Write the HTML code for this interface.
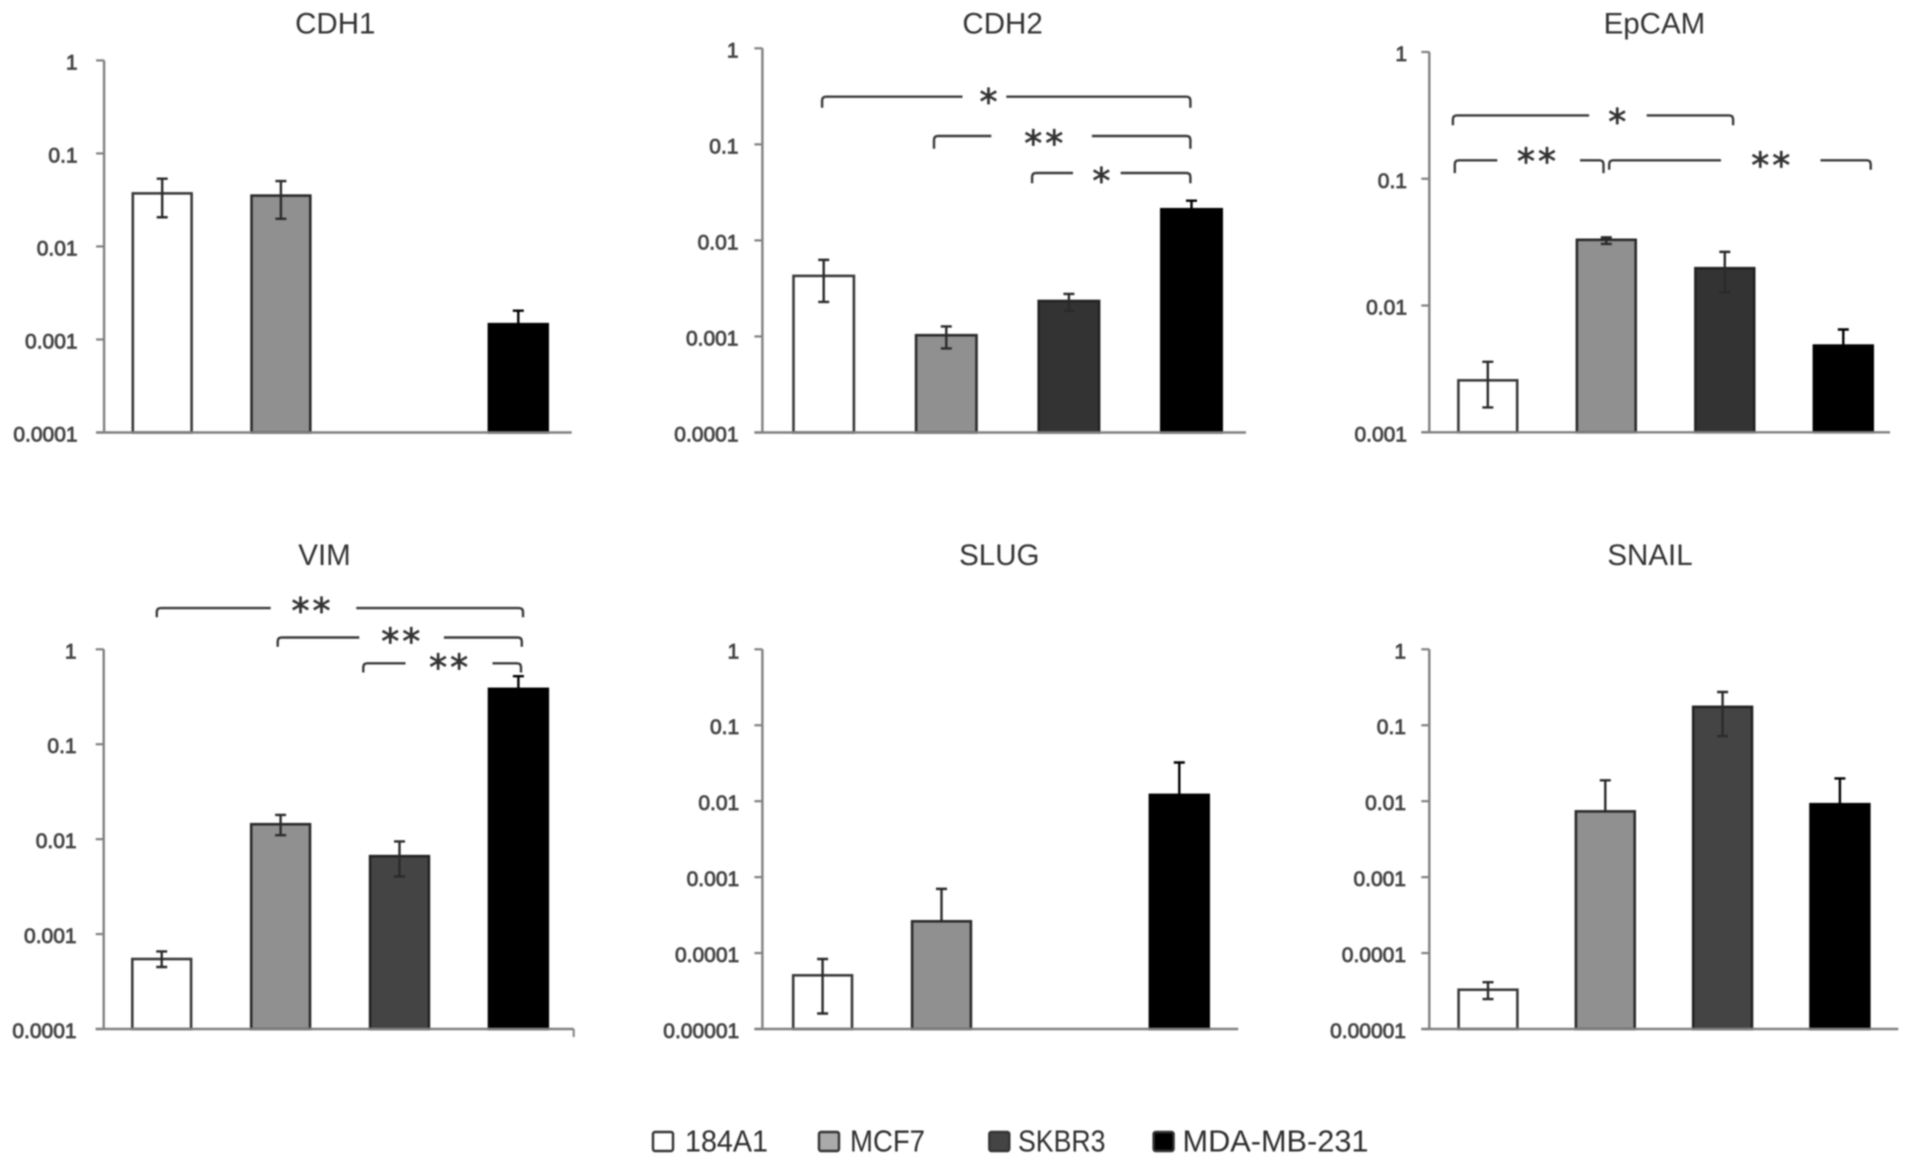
<!DOCTYPE html>
<html lang="en">
<head>
<meta charset="utf-8">
<title>Gene expression across breast cell lines</title>
<style>
  html, body { margin: 0; padding: 0; background: #ffffff; }
  #figure { display: block; width: 1913px; height: 1168px; filter: blur(0.7px); }
  text { font-family: "Liberation Sans", "DejaVu Sans", sans-serif; }
</style>
</head>
<body>
<svg id="figure" xmlns="http://www.w3.org/2000/svg" width="1913" height="1168" viewBox="0 0 1913 1168"></svg>
<script>
// ---- Data ----
const cellLines = ['184A1', 'MCF7', 'SKBR3', 'MDA-MB-231'];

const fourDecadeTicks = [1, 0.1, 0.01, 0.001, 0.0001];
const fourDecadeLabels = ['1', '0.1', '0.01', '0.001', '0.0001'];
const threeDecadeTicks = [1, 0.1, 0.01, 0.001];
const threeDecadeLabels = ['1', '0.1', '0.01', '0.001'];
const fiveDecadeTicks = [1, 0.1, 0.01, 0.001, 0.0001, 0.00001];
const fiveDecadeLabels = ['1', '0.1', '0.01', '0.001', '0.0001', '0.00001'];

const cdh1Values = [0.0372, 0.0352, null, 0.00146];
const cdh1Upper = [0.0535, 0.0505, null, 0.00204];
const cdh1Lower = [0.0206, 0.0198, null, 0.00088];

const cdh2Values = [0.00427, 0.00103, 0.00234, 0.0211];
const cdh2Upper = [0.00627, 0.00127, 0.00277, 0.0259];
const cdh2Lower = [0.00229, 0.00075, 0.00185, 0.0163];

const epcamValues = [0.00257, 0.033, 0.0197, 0.00483];
const epcamUpper = [0.0036, 0.0345, 0.0265, 0.00647];
const epcamLower = [0.00157, 0.0306, 0.0127, 0.0032];

const vimValues = [0.000546, 0.01436, 0.00662, 0.383];
const vimUpper = [0.000656, 0.018, 0.00946, 0.521];
const vimLower = [0.00045, 0.011, 0.00405, 0.245];

const slugValues = [0.0000509, 0.000262, null, 0.0121];
const slugUpper = [0.0000835, 0.0007, null, 0.0323];
const slugLower = [0.000016, null, null, null];

const snailValues = [0.0000329, 0.00734, 0.1746, 0.00912];
const snailUpper = [0.0000413, 0.0188, 0.274, 0.01995];
const snailLower = [0.0000248, null, 0.0721, null];

// ---- Layout (geometry only, no data) ----
const barFills = ['#ffffff', '#909090', '#333333', '#000000'];
const barStrokes = ['#3a3a3a', '#2a2a2a', '#222222', '#000000'];
const SVGNS = 'http://www.w3.org/2000/svg';
const svg = document.getElementById('figure');

const panels = [
  { key: 'cdh1', title: 'CDH1', titleX: 335.3, titleY: 33.5, axisX: 104.1, yTop: 60.4, yBase: 432.5, xEnd: 571.7, x0: 162.2, step: 118.7, barW: 58.8, labelX: 77.6, ticks: fourDecadeTicks, labels: fourDecadeLabels, values: cdh1Values, upper: cdh1Upper, lower: cdh1Lower, darkFill: '#333333', endTick: false, brackets: [] },
  { key: 'cdh2', title: 'CDH2', titleX: 1002.6, titleY: 33.5, axisX: 762.4, yTop: 48.3, yBase: 432.5, xEnd: 1246, x0: 823.7, step: 122.6, barW: 60.4, labelX: 738.5, ticks: fourDecadeTicks, labels: fourDecadeLabels, values: cdh2Values, upper: cdh2Upper, lower: cdh2Lower, darkFill: '#333333', endTick: false,
    brackets: [
      { x1: 822.1, x2: 1190.4, y: 96.7, drop: 11, g1: 962.5, g2: 1006.3, sx: 990, sy: 96.7, stars: '*' },
      { x1: 934, x2: 1190.4, y: 136, drop: 12.7, g1: 991.3, g2: 1091.9, sx: 1045.2, sy: 138, stars: '**' },
      { x1: 1032.1, x2: 1190.4, y: 173, drop: 10.2, g1: 1073, g2: 1120.7, sx: 1102.9, sy: 175.5, stars: '*' }
    ] },
  { key: 'epcam', title: 'EpCAM', titleX: 1654.4, titleY: 33.5, axisX: 1429.3, yTop: 52, yBase: 432.3, xEnd: 1890, x0: 1487.8, step: 118.5, barW: 58.8, labelX: 1407, ticks: threeDecadeTicks, labels: threeDecadeLabels, values: epcamValues, upper: epcamUpper, lower: epcamLower, darkFill: '#333333', endTick: false,
    brackets: [
      { x1: 1452.9, x2: 1733.1, y: 115.4, drop: 9.8, g1: 1589.1, g2: 1646.7, sx: 1618.8, sy: 116.7, stars: '*' },
      { x1: 1454.8, x2: 1603.5, y: 160.3, drop: 12.8, g1: 1497.3, g2: 1580, sx: 1538, sy: 156, stars: '**' },
      { x1: 1609.2, x2: 1870.7, y: 160.3, drop: 9.5, g1: 1721, g2: 1820.5, sx: 1772.3, sy: 160, stars: '**' }
    ] },
  { key: 'vim', title: 'VIM', titleX: 324.5, titleY: 564.8, axisX: 103.7, yTop: 649.3, yBase: 1029, xEnd: 573.7, x0: 161.7, step: 118.9, barW: 58.8, labelX: 76.6, ticks: fourDecadeTicks, labels: fourDecadeLabels, values: vimValues, upper: vimUpper, lower: vimLower, darkFill: '#444444', endTick: true,
    brackets: [
      { x1: 156.8, x2: 523, y: 608.1, drop: 9.2, g1: 270.7, g2: 356.3, sx: 312.5, sy: 605.4, stars: '**' },
      { x1: 277.7, x2: 521.8, y: 637.5, drop: 9.2, g1: 359.3, g2: 443.9, sx: 402.3, sy: 635.8, stars: '**' },
      { x1: 363.3, x2: 521, y: 663.3, drop: 9.2, g1: 405.5, g2: 492.5, sx: 450.1, sy: 661.9, stars: '**' }
    ] },
  { key: 'slug', title: 'SLUG', titleX: 999.3, titleY: 564.8, axisX: 762.4, yTop: 649.3, yBase: 1029, xEnd: 1238.2, x0: 822.6, step: 118.9, barW: 58.8, labelX: 739.2, ticks: fiveDecadeTicks, labels: fiveDecadeLabels, values: slugValues, upper: slugUpper, lower: slugLower, darkFill: '#444444', endTick: false, brackets: [] },
  { key: 'snail', title: 'SNAIL', titleX: 1650, titleY: 564.8, axisX: 1429.3, yTop: 649.3, yBase: 1029, xEnd: 1898.3, x0: 1488, step: 117.3, barW: 58.8, labelX: 1406, ticks: fiveDecadeTicks, labels: fiveDecadeLabels, values: snailValues, upper: snailUpper, lower: snailLower, darkFill: '#444444', endTick: false, brackets: [] }
];

const legendItems = [
  { swatchX: 653, textX: 685, textW: 83 },
  { swatchX: 819, textX: 850, textW: 75 },
  { swatchX: 989.3, textX: 1018, textW: 87.5 },
  { swatchX: 1153.6, textX: 1182.5, textW: 186 }
];

function shape(tag, parent, props) {
  const el = document.createElementNS(SVGNS, tag);
  for (const k in props) el.setAttribute(k, props[k]);
  parent.appendChild(el);
  return el;
}

function drawPanel(p) {
  const group = shape('g', svg, {});
  
  

  const topLog = Math.log10(p.ticks[0]);
  const botLog = Math.log10(p.ticks[p.ticks.length - 1]);
  const yScale = v => p.yTop + (topLog - Math.log10(v)) / (topLog - botLog) * (p.yBase - p.yTop);
  const xScale = i => p.x0 + i * p.step;

  const title = shape('text', group, { x: p.titleX, y: p.titleY, 'text-anchor': 'middle', 'font-size': 29.5, fill: '#333333' });
  title.textContent = p.title;
  
  

  const yAxis = shape('line', group, { x1: p.axisX, x2: p.axisX, y1: p.yTop, y2: p.yBase, stroke: '#808080', 'stroke-width': 2.4 });
  
  

  p.ticks.forEach((t, i) => {
    const ty = yScale(t);
    const tick = shape('line', group, { x1: p.axisX - 8, x2: p.axisX, y1: ty, y2: ty, stroke: '#808080', 'stroke-width': 2.2 });
    
    
    const label = shape('text', group, { x: p.labelX, y: ty + 9, 'text-anchor': 'end', 'font-size': 21, fill: '#444444', stroke: '#444444', 'stroke-width': 0.8 });
    label.textContent = p.labels[i];
    
    
  });

  p.values.forEach((v, i) => {
    if (v === null) return;
    const cx = xScale(i);
    const top = yScale(v);
    const fill = i === 2 ? p.darkFill : barFills[i];
    const bar = shape('rect', group, { x: cx - p.barW / 2, y: top, width: p.barW, height: p.yBase - top, fill: fill, stroke: barStrokes[i], 'stroke-width': 2.6 });
    
    

    const hiY = yScale(p.upper[i]);
    const loY = p.lower[i] === null ? top : yScale(p.lower[i]);
    const err = shape('path', group, {
      d: 'M' + (cx - 5.5) + ' ' + hiY + 'H' + (cx + 5.5) + 'M' + cx + ' ' + hiY + 'V' + loY +
         (p.lower[i] === null ? '' : 'M' + (cx - 5.5) + ' ' + loY + 'H' + (cx + 5.5)),
      fill: 'none', stroke: i === 3 ? '#000000' : '#2a2a2a', 'stroke-width': 2.4
    });
    
    
  });

  const xAxis = shape('line', group, { x1: p.axisX - 8, x2: p.xEnd, y1: p.yBase, y2: p.yBase, stroke: '#808080', 'stroke-width': 2.4 });
  
  

  if (p.endTick) {
    const endTick = shape('line', group, { x1: p.xEnd, x2: p.xEnd, y1: p.yBase, y2: p.yBase + 8, stroke: '#808080', 'stroke-width': 2 });
    
    
  }

  p.brackets.forEach(b => {
    const r = 4;
    const d = 'M' + b.x1 + ' ' + (b.y + b.drop) + 'V' + (b.y + r) + 'Q' + b.x1 + ' ' + b.y + ' ' + (b.x1 + r) + ' ' + b.y + 'H' + b.g1 +
              'M' + b.g2 + ' ' + b.y + 'H' + (b.x2 - r) + 'Q' + b.x2 + ' ' + b.y + ' ' + b.x2 + ' ' + (b.y + r) + 'V' + (b.y + b.drop);
    const bracket = shape('path', group, { d: d, fill: 'none', stroke: '#3a3a3a', 'stroke-width': 2.4 });
    
    
    const star = shape('text', group, { x: b.sx, y: b.sy + 17.5, 'text-anchor': 'middle', 'font-size': 36, 'letter-spacing': 3, fill: '#333333', stroke: '#333333', 'stroke-width': 0.7, style: 'font-family:"DejaVu Sans",sans-serif' });
    star.textContent = b.stars;
    
    
  });
}

panels.forEach(drawPanel);

const legend = shape('g', svg, {});


legendItems.forEach((it, i) => {
  const swatch = shape('rect', legend, { x: it.swatchX, y: 1132, width: 20, height: 19, rx: 2, fill: i === 1 ? '#aaaaaa' : (i === 2 ? '#444444' : barFills[i]), stroke: '#333333', 'stroke-width': 2.4 });
  
  
  const label = shape('text', legend, { x: it.textX, y: 1151.5, 'font-size': 30.5, fill: '#2e2e2e', textLength: it.textW, lengthAdjust: 'spacingAndGlyphs' });
  label.textContent = cellLines[i];
  
  
});
</script>
</body>
</html>
